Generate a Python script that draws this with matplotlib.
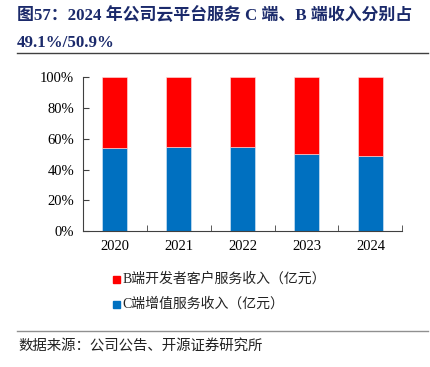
import numpy as np
import matplotlib
matplotlib.use("Agg")
import matplotlib.pyplot as plt
from matplotlib.lines import Line2D
from matplotlib.patches import Rectangle

# 数据（占比，%）
years = ["2020", "2021", "2022", "2023", "2024"]
c_share = [54.3, 54.5, 54.7, 50.4, 49.1]   # C端增值服务收入
b_share = [45.7, 45.5, 45.3, 49.6, 50.9]   # B端开发者客户服务收入
yticks = [0, 20, 40, 60, 80, 100]

serif = ["Liberation Serif", "Noto Sans CJK SC"]
cjk = ["Noto Sans CJK SC", "Liberation Serif"]
plt.rcParams["font.family"] = serif

fig = plt.figure(figsize=(4.30, 3.67), dpi=100)
ax = fig.add_axes([0.192, 0.370, 0.744, 0.419])

x = np.arange(len(years))
ax.bar(x, np.array(c_share) / 100, width=0.4, color="#0070C0", edgecolor="#DDEBF7", linewidth=0.4)
ax.bar(x, np.array(b_share) / 100, width=0.4, bottom=np.array(c_share) / 100,
       color="#FF0000", edgecolor="#FCE4E4", linewidth=0.4)

ax.set_xlim(-0.5, len(years) - 0.5)
ax.set_ylim(0, 1)
ax.set_yticks([v / 100 for v in yticks])
ax.set_yticklabels([f"{v}%" for v in yticks], fontsize=10.5)
ax.set_xticks(x)
ax.set_xticklabels(years, fontsize=10.5)
ax.tick_params(axis="x", length=0, pad=6)
ax.set_xticks(np.arange(len(years)) + 0.5, minor=True)
ax.tick_params(axis="x", which="minor", direction="in", length=4, color="#404040")
ax.tick_params(axis="y", direction="in", length=4, color="#404040", pad=6)
for s in ["top", "right"]:
    ax.spines[s].set_visible(False)
for s in ["left", "bottom"]:
    ax.spines[s].set_color("#404040")
    ax.spines[s].set_linewidth(0.8)

# 标题
navy = "#1B2A6B"
fig.text(0.040, 0.958, "图57：2024 年公司云平台服务 C 端、B 端收入分别占",
         fontsize=12.2, fontweight="bold", color=navy, va="center", family=serif)
fig.text(0.040, 0.884, "49.1%/50.9%", fontsize=12.2, fontweight="bold",
         color=navy, va="center", family=serif)
fig.add_artist(Line2D([0.040, 0.995], [0.855, 0.855], color="#404040", lw=1.0))

# 图例
labels = ["B端开发者客户服务收入（亿元）", "C端增值服务收入（亿元）"]
colors = ["#FF0000", "#0070C0"]
ys = [0.240, 0.172]
for lab, col, yy in zip(labels, colors, ys):
    fig.add_artist(Rectangle((0.262, yy - 0.011), 0.016, 0.019, color=col))
    fig.text(0.285, yy, lab, fontsize=10, va="center", family=serif, color="#222222")

# 来源
fig.add_artist(Line2D([0.040, 0.995], [0.098, 0.098], color="#909090", lw=1.0))
fig.text(0.042, 0.058, "数据来源：公司公告、开源证券研究所", fontsize=10.4,
         va="center", family=cjk, color="#222222")

fig.savefig("out.png", dpi=100)
